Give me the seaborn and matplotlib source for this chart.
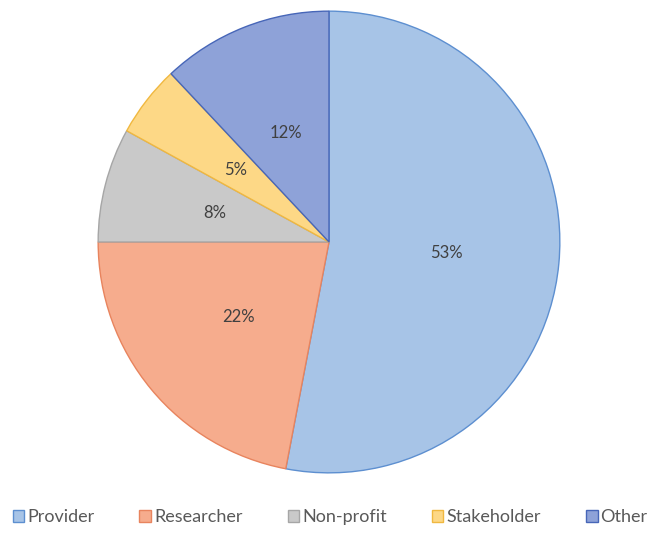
import matplotlib
matplotlib.use("Agg")
import matplotlib.pyplot as plt
import seaborn as sns

# 数据
labels = ['Provider', 'Researcher', 'Non-profit', 'Stakeholder', 'Other']
shares = [53, 22, 8, 5, 12]
fill_colors = ['#a7c4e7', '#f6ac8d', '#c9c9c9', '#fdd886', '#8ea2d8']
edge_colors = ['#5d8fd0', '#e8845e', '#a6a6a6', '#f0b840', '#4766b8']

sns.set_theme(style='white')
plt.rcParams['font.family'] = ['Lato', 'DejaVu Sans']

fig = plt.figure(figsize=(6.6, 5.33), dpi=100)
ax = fig.add_axes([97 / 660, 59 / 533, 464 / 660, 464 / 533])

wedges, texts, autotexts = ax.pie(
    shares, colors=fill_colors, startangle=90, counterclock=False,
    autopct=lambda p: f'{round(p)}%', pctdistance=0.51,
    textprops={'color': '#404040', 'fontsize': 12},
    wedgeprops={'linewidth': 1.0},
)
for w, ec in zip(wedges, edge_colors):
    w.set_edgecolor(ec)
ax.set_xlim(-1.005, 1.005)
ax.set_ylim(-1.005, 1.005)
ax.set_aspect('equal')

fig.legend(wedges, labels, loc='center', bbox_to_anchor=(0.5, 1 - 517 / 533),
           ncol=5, frameon=False, fontsize=13, handlelength=0.65, handleheight=0.65,
           handletextpad=0.15, columnspacing=2.5, labelcolor='#595959')

fig.savefig('out.png', dpi=100)
